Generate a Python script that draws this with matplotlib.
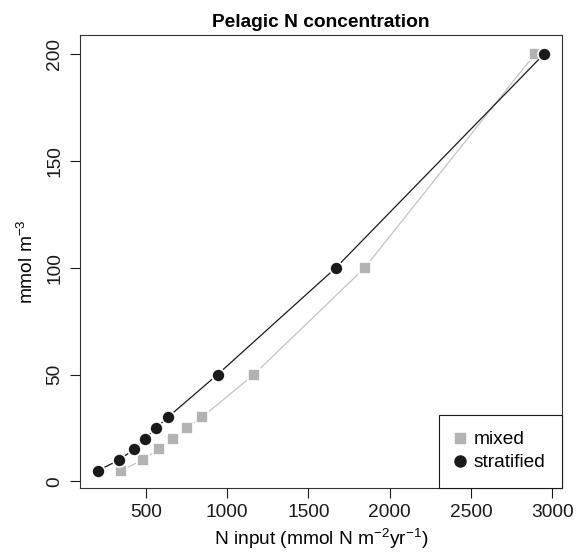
import matplotlib
matplotlib.use("Agg")
import matplotlib.pyplot as plt
from matplotlib.lines import Line2D

plt.rcParams["font.family"] = ["Liberation Sans", "DejaVu Sans"]
plt.rcParams["mathtext.default"] = "regular"

# N concentration (mmol m-3) at each level of N input
conc = [5, 10, 15, 20, 25, 30, 50, 100, 200]
n_input_mixed = [344, 482, 578, 666, 752, 845, 1164, 1847, 2893]
n_input_stratified = [203, 336, 426, 494, 563, 635, 941, 1669, 2949]

x_ticks = [500, 1000, 1500, 2000, 2500, 3000]
y_ticks = [0, 50, 100, 150, 200]

fs = 13.8

fig = plt.figure(figsize=(5.8, 5.52), dpi=100)
ax = fig.add_axes([0.1379, 0.1165, 0.8305, 0.82])

ax.plot(n_input_mixed, conc, color="#c4c4c4", lw=0.9, marker="s", ms=8.2,
        mfc="#b3b3b3", mec="white", mew=1.2)
ax.plot(n_input_stratified, conc, color="#1a1a1a", lw=0.9, marker="o", ms=9.4,
        mfc="#1a1a1a", mec="white", mew=1.2)

ax.set_xlim(94, 3059)
ax.set_ylim(-3, 209)
ax.set_xticks(x_ticks)
ax.set_yticks(y_ticks)
ax.set_yticklabels([str(v) for v in y_ticks], rotation=90, va="center")
ax.tick_params(direction="out", length=7, width=0.8, labelsize=fs, pad=5, colors="#1a1a1a")
for s in ax.spines.values():
    s.set_linewidth(0.8)
    s.set_color("#333333")

ax.set_title("Pelagic N concentration", fontsize=fs, fontweight="bold", pad=6)
ax.set_xlabel(r"N input (mmol N m$^{-2}$yr$^{-1}$)", fontsize=fs, labelpad=4)
ax.set_ylabel(r"mmol m$^{-3}$", fontsize=fs, labelpad=7)

handles = [
    Line2D([], [], ls="none", marker="s", ms=7, mfc="#b3b3b3", mec="#b3b3b3"),
    Line2D([], [], ls="none", marker="o", ms=8, mfc="#1a1a1a", mec="#1a1a1a"),
]
leg = ax.legend(handles, ["mixed", "stratified"], loc="lower right", borderaxespad=0,
                fancybox=False, fontsize=fs, handlelength=0.5, handletextpad=0.45,
                borderpad=0.85, labelspacing=0.3, framealpha=1)
leg.get_frame().set_edgecolor("#1a1a1a")
leg.get_frame().set_linewidth(0.8)

fig.savefig("out.png", dpi=100)
